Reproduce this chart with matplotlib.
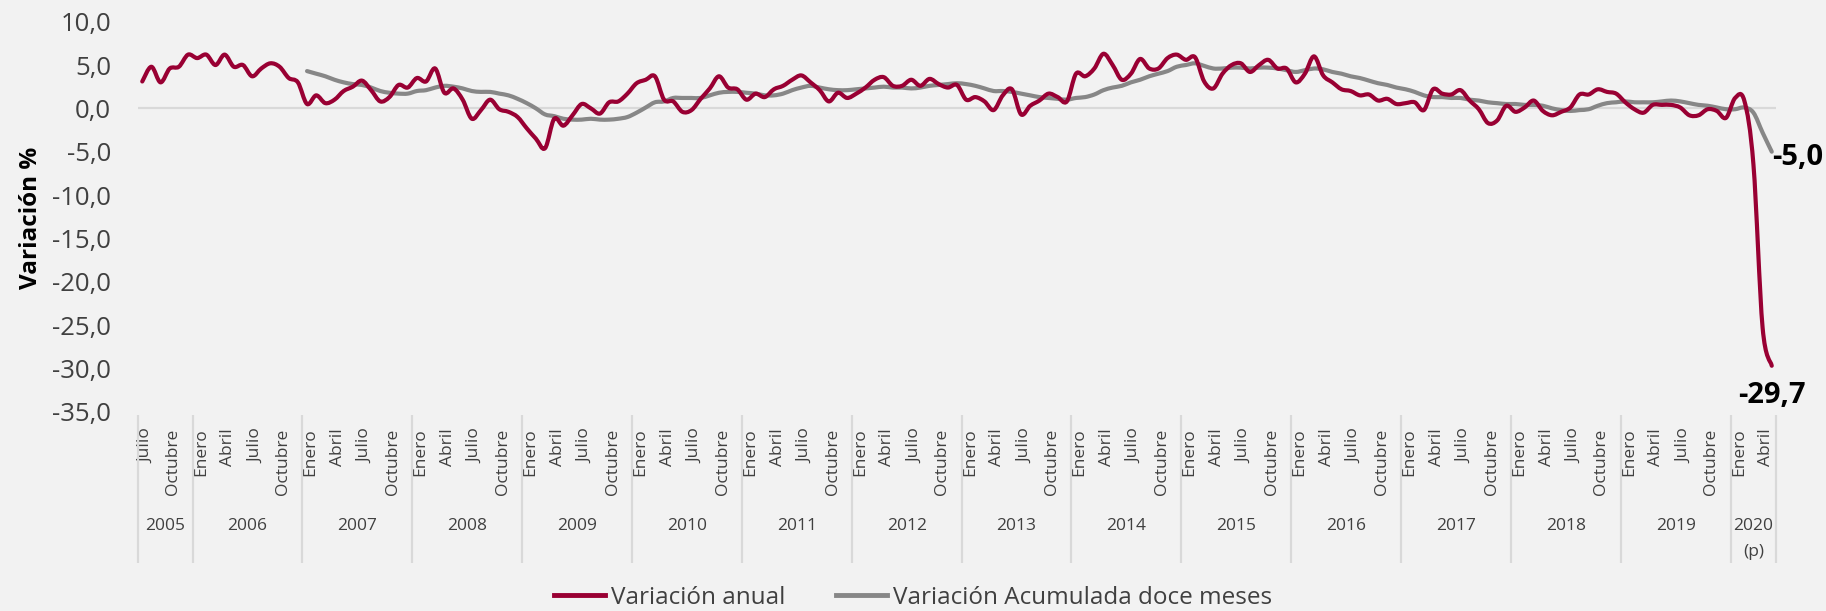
import numpy as np
import matplotlib.pyplot as plt
from matplotlib.path import Path
from matplotlib.patches import PathPatch
from matplotlib.lines import Line2D
from matplotlib.ticker import FuncFormatter

plt.rcParams['font.family'] = ['Open Sans', 'DejaVu Sans']

# serie mensual desde julio 2005 hasta mayo 2020
meses = ['Enero', 'Febrero', 'Marzo', 'Abril', 'Mayo', 'Junio', 'Julio',
         'Agosto', 'Septiembre', 'Octubre', 'Noviembre', 'Diciembre']
meses_visibles = ['Enero', 'Abril', 'Julio', 'Octubre']
mes_inicial = 6  # julio
anio_inicial = 2005
anios = ['2005', '2006', '2007', '2008', '2009', '2010', '2011', '2012',
         '2013', '2014', '2015', '2016', '2017', '2018', '2019', '2020']

var_anual = [
    3.1, 4.8, 3.0, 4.6, 4.8, 6.2,                                      # 2005
    5.8, 6.2, 5.0, 6.2, 4.8, 5.0, 3.7, 4.6, 5.2, 4.8, 3.5, 3.0,          # 2006
    0.5, 1.5, 0.6, 1.0, 2.0, 2.5, 3.2, 2.1, 0.8, 1.3, 2.7, 2.4,          # 2007
    3.5, 3.1, 4.6, 1.8, 2.3, 1.0, -1.2, -0.2, 1.0, -0.1, -0.4, -1.0,     # 2008
    -2.3, -3.5, -4.6, -1.2, -2.0, -0.8, 0.5, 0.0, -0.6, 0.7, 0.8, 1.7,   # 2009
    2.9, 3.3, 3.7, 1.0, 0.8, -0.4, -0.2, 1.1, 2.3, 3.7, 2.4, 2.2,        # 2010
    1.0, 1.7, 1.3, 2.2, 2.6, 3.3, 3.8, 3.0, 2.1, 0.8, 1.8, 1.2,          # 2011
    1.7, 2.4, 3.3, 3.6, 2.6, 2.6, 3.3, 2.6, 3.4, 2.8, 2.4, 2.7,          # 2012
    1.0, 1.3, 0.8, -0.2, 1.5, 2.2, -0.7, 0.3, 0.9, 1.7, 1.3, 0.8,        # 2013
    4.0, 3.7, 4.6, 6.3, 5.0, 3.3, 4.0, 5.7, 4.6, 4.6, 5.8, 6.2,          # 2014
    5.6, 5.9, 3.1, 2.3, 4.0, 5.0, 5.2, 4.2, 5.0, 5.6, 4.6, 4.6,          # 2015
    3.0, 4.0, 6.0, 3.8, 3.0, 2.2, 2.0, 1.5, 1.6, 0.9, 1.1, 0.5,          # 2016
    0.6, 0.7, -0.2, 2.2, 1.7, 1.6, 2.1, 0.9, -0.1, -1.7, -1.4, 0.3,      # 2017
    -0.4, 0.1, 0.9, -0.3, -0.8, -0.4, 0.1, 1.6, 1.6, 2.2, 1.9, 1.7,      # 2018
    0.7, -0.1, -0.5, 0.4, 0.4, 0.4, 0.1, -0.8, -0.8, -0.1, -0.3, -1.1,   # 2019
    1.2, 0.9, -6.5, -25.3, -29.7,                                        # 2020
]

# acumulada doce meses, desde enero 2007
inicio_acum = 18
var_acum = [
    4.3, 4.0, 3.7, 3.3, 3.0, 2.8, 2.7, 2.4, 2.0, 1.8, 1.7, 1.7,          # 2007
    2.0, 2.1, 2.4, 2.6, 2.5, 2.3, 2.0, 1.9, 1.9, 1.7, 1.5, 1.1,          # 2008
    0.6, 0.0, -0.7, -0.9, -1.2, -1.3, -1.3, -1.2, -1.3, -1.3, -1.2, -1.0,  # 2009
    -0.5, 0.1, 0.7, 0.8, 1.2, 1.2, 1.2, 1.2, 1.5, 1.8, 1.9, 1.9,         # 2010
    1.8, 1.7, 1.5, 1.5, 1.7, 2.1, 2.4, 2.6, 2.4, 2.2, 2.1, 2.1,          # 2011
    2.2, 2.3, 2.4, 2.5, 2.4, 2.4, 2.3, 2.4, 2.6, 2.7, 2.8, 2.9,          # 2012
    2.8, 2.6, 2.3, 2.0, 2.0, 1.9, 1.7, 1.5, 1.3, 1.2, 1.1, 1.0,          # 2013
    1.2, 1.3, 1.6, 2.1, 2.4, 2.6, 3.0, 3.3, 3.7, 4.0, 4.3, 4.8,          # 2014
    5.0, 5.2, 4.9, 4.6, 4.6, 4.7, 4.7, 4.6, 4.7, 4.7, 4.6, 4.4,          # 2015
    4.2, 4.4, 4.6, 4.5, 4.2, 4.0, 3.7, 3.5, 3.2, 2.9, 2.7, 2.4,          # 2016
    2.2, 1.9, 1.5, 1.3, 1.3, 1.2, 1.2, 1.0, 0.9, 0.7, 0.6, 0.5,          # 2017
    0.5, 0.4, 0.4, 0.3, 0.0, -0.2, -0.3, -0.2, -0.1, 0.3, 0.6, 0.7,      # 2018
    0.8, 0.7, 0.7, 0.7, 0.8, 0.9, 0.8, 0.6, 0.4, 0.3, 0.1, -0.1,         # 2019
    -0.1, 0.1, -0.5, -2.8, -5.0,                                         # 2020
]

rojo = '#990033'
gris = '#878787'
fondo = '#F2F2F2'
texto = '#404040'
linea = '#D9D9D9'

n = len(var_anual)
x = np.arange(n)
x_acum = np.arange(inicio_acum, inicio_acum + len(var_acum))
mes = [(mes_inicial + i) % 12 for i in range(n)]
anio = [anio_inicial + (mes_inicial + i) // 12 for i in range(n)]


def curva_suave(xs, ys):
    # linea suavizada tipo Excel: pasa por cada punto, tramos de Bezier
    p = np.column_stack([xs, ys]).astype(float)
    ext = np.vstack([p[0], p, p[-1]])
    verts = [p[0]]
    codes = [Path.MOVETO]
    for k in range(len(p) - 1):
        p0, p1, p2, p3 = ext[k], ext[k + 1], ext[k + 2], ext[k + 3]
        verts += [p1 + (p2 - p0) / 6, p2 - (p3 - p1) / 6, p2]
        codes += [Path.CURVE4] * 3
    return Path(verts, codes)


fig = plt.figure(figsize=(18.26, 6.11), dpi=100, facecolor=fondo)
ax = fig.add_axes([0.0754, 0.3262, 0.8974, 0.6383], facecolor=fondo)

ax.axhline(0, color=linea, lw=1.6, zorder=1)
ax.add_patch(PathPatch(curva_suave(x_acum, var_acum), fill=False, edgecolor=gris,
                       lw=3.0, joinstyle='round', capstyle='round', zorder=2))
ax.add_patch(PathPatch(curva_suave(x, var_anual), fill=False, edgecolor=rojo,
                       lw=3.0, joinstyle='round', capstyle='round', zorder=3))
l1 = Line2D([], [], color=rojo, lw=3.5, label='Variación anual')
l2 = Line2D([], [], color=gris, lw=3.5, label='Variación Acumulada doce meses')

ax.set_xlim(-0.5, n - 0.5)
ax.set_ylim(-35, 10)
ax.set_yticks(np.arange(-35, 11, 5))
ax.yaxis.set_major_formatter(FuncFormatter(lambda v, p: f'{v:.1f}'.replace('.', ',')))
ax.tick_params(axis='y', length=0, pad=19, labelsize=18.5, labelcolor=texto)

# etiquetas de meses (corridas un poco a la derecha, como en el original)
pos = [i for i in range(n) if meses[mes[i]] in meses_visibles]
ax.set_xticks([i + 0.4 for i in pos])
ax.set_xticklabels([meses[mes[i]] for i in pos], rotation=90)
ax.tick_params(axis='x', length=0, pad=12, labelsize=12.5, labelcolor=texto)

for s in ax.spines.values():
    s.set_visible(False)

# separadores y etiquetas de año
tr = ax.get_xaxis_transform()
limites = [-0.5] + [i - 0.5 for i in range(1, n) if anio[i] != anio[i - 1]] + [n - 0.5]
ax.vlines(limites, -0.388, -0.009, transform=tr, clip_on=False, color=linea, lw=1.6)
for k in range(len(limites) - 1):
    centro = (limites[k] + limites[k + 1]) / 2
    ax.text(centro, -0.293, anios[k], transform=tr, ha='center', va='center',
            fontsize=12.5, color=texto)
ax.text((limites[-2] + limites[-1]) / 2, -0.36, '(p)', transform=tr,
        ha='center', va='center', fontsize=12.5, color=texto)

# etiquetas de los últimos valores
ax.annotate(f'{var_acum[-1]:.1f}'.replace('.', ','), (x_acum[-1], var_acum[-1]),
            xytext=(0, -4), textcoords='offset points', ha='left', va='center',
            fontsize=21, fontweight='bold', color='black')
ax.annotate(f'{var_anual[-1]:.1f}'.replace('.', ','), (x[-1], var_anual[-1]),
            xytext=(0, -11), textcoords='offset points', ha='center', va='top',
            fontsize=21, fontweight='bold', color='black')

fig.text(31 / 1826, 1 - 218 / 611, 'Variación %', rotation=90, ha='center',
         va='center', fontsize=17.5, fontweight='bold', color='black')

fig.legend(handles=[l1, l2], loc='center', bbox_to_anchor=(0.5, 1 - 598 / 611),
           ncol=2, frameon=False, fontsize=17.5, handlelength=2.1,
           handletextpad=0.25, columnspacing=2.1, labelcolor=texto)

fig.savefig('out.png', dpi=100, facecolor=fondo)
